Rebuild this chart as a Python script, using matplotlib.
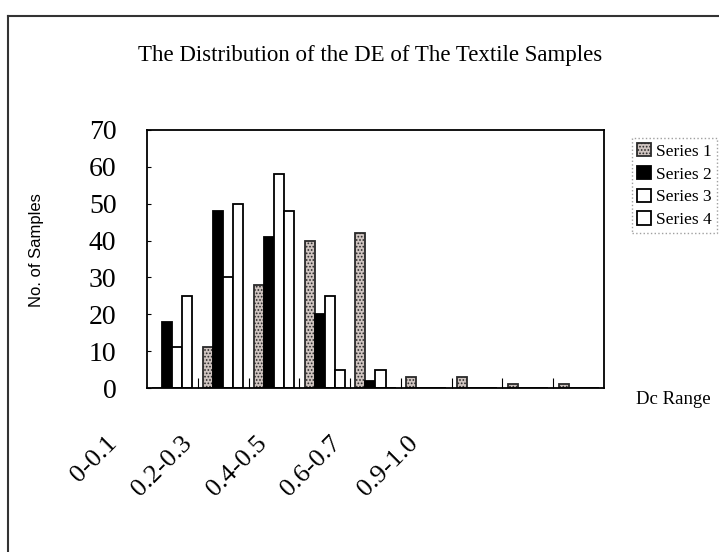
import numpy as np
import matplotlib.pyplot as plt
from matplotlib.lines import Line2D

plt.rcParams['font.family'] = ['Liberation Serif', 'DejaVu Serif']
plt.rcParams['hatch.linewidth'] = 0.8

categories = ['0-0.1', '0.1-0.2', '0.2-0.3', '0.3-0.4', '0.4-0.5',
              '0.5-0.6', '0.6-0.7', '0.7-0.9', '0.9-1.0']
series1 = [0, 11, 28, 40, 42, 3, 3, 1, 1]
series2 = [18, 48, 41, 20, 2, 0, 0, 0, 0]
series3 = [11, 30, 58, 25, 5, 0, 0, 0, 0]
series4 = [25, 50, 48, 5, 0, 0, 0, 0, 0]
shown_labels = ['0-0.1', '0.2-0.3', '0.4-0.5', '0.6-0.7', '0.9-1.0']

W, H = 719, 552
fig = plt.figure(figsize=(W / 100, H / 100), dpi=100)
ax = fig.add_axes([147 / W, 1 - 388 / H, 457 / W, 258 / H])

x = np.arange(len(categories))
w = 0.197
styles = [
    dict(facecolor='#cfc4c0', hatch='.....', edgecolor='#2a2a2a'),
    dict(facecolor='black', edgecolor='black'),
    dict(facecolor='white', edgecolor='black'),
    dict(facecolor='white', edgecolor='black'),
]
names = ['Series 1', 'Series 2', 'Series 3', 'Series 4']
for i, (vals, st) in enumerate(zip([series1, series2, series3, series4], styles)):
    ax.bar(x + (i - 1.5) * w, vals, width=w, linewidth=1.3, label=names[i], **st)

ax.set_xlim(-0.5, len(categories) - 0.5)
ax.set_ylim(0, 70)
ax.set_yticks(range(0, 71, 10))
ax.tick_params(axis='y', direction='in', length=3, width=0.8, labelsize=20, pad=22)
ax.set_xticks(x[:-1] + 0.5)
ax.tick_params(axis='x', direction='in', length=7, width=0.8, labelbottom=False)
for sp in ax.spines.values():
    sp.set_linewidth(1.3)

# rotated category labels (sparse, as in the original)
label_x = [106, 181, 256, 330, 407]
for lx, lab in zip(label_x, shown_labels):
    fig.text(lx / W, 1 - 432 / H, lab, rotation=45, rotation_mode='anchor',
             ha='right', va='top', fontsize=19)

fig.text(370 / W, 1 - 55 / H, 'The Distribution of the DE of The Textile Samples',
         ha='center', va='center', fontsize=16.5)
fig.text(36 / W, 1 - 250 / H, 'No. of Samples', rotation=90, ha='center',
         va='center', fontsize=12, family=['Liberation Sans', 'DejaVu Sans'])
fig.text(673 / W, 1 - 400 / H, 'Dc Range', ha='center', va='center', fontsize=13.5)

leg = fig.legend(loc='upper left', bbox_to_anchor=(632 / W, 1 - 138 / H),
                 fontsize=12.5, handlelength=0.8, handleheight=0.8,
                 handletextpad=0.3, labelspacing=0.35, borderpad=0.3,
                 borderaxespad=0, fancybox=False)
leg.get_frame().set_linestyle(':')
leg.get_frame().set_edgecolor('#888888')
leg.get_frame().set_linewidth(1.0)

# outer chart border (top and left visible in the scan)
fig.add_artist(Line2D([8 / W, 1], [1 - 16 / H, 1 - 16 / H], color='#333333', lw=1.5))
fig.add_artist(Line2D([8 / W, 8 / W], [0, 1 - 16 / H], color='#333333', lw=1.5))

fig.savefig('out.png', dpi=100)
